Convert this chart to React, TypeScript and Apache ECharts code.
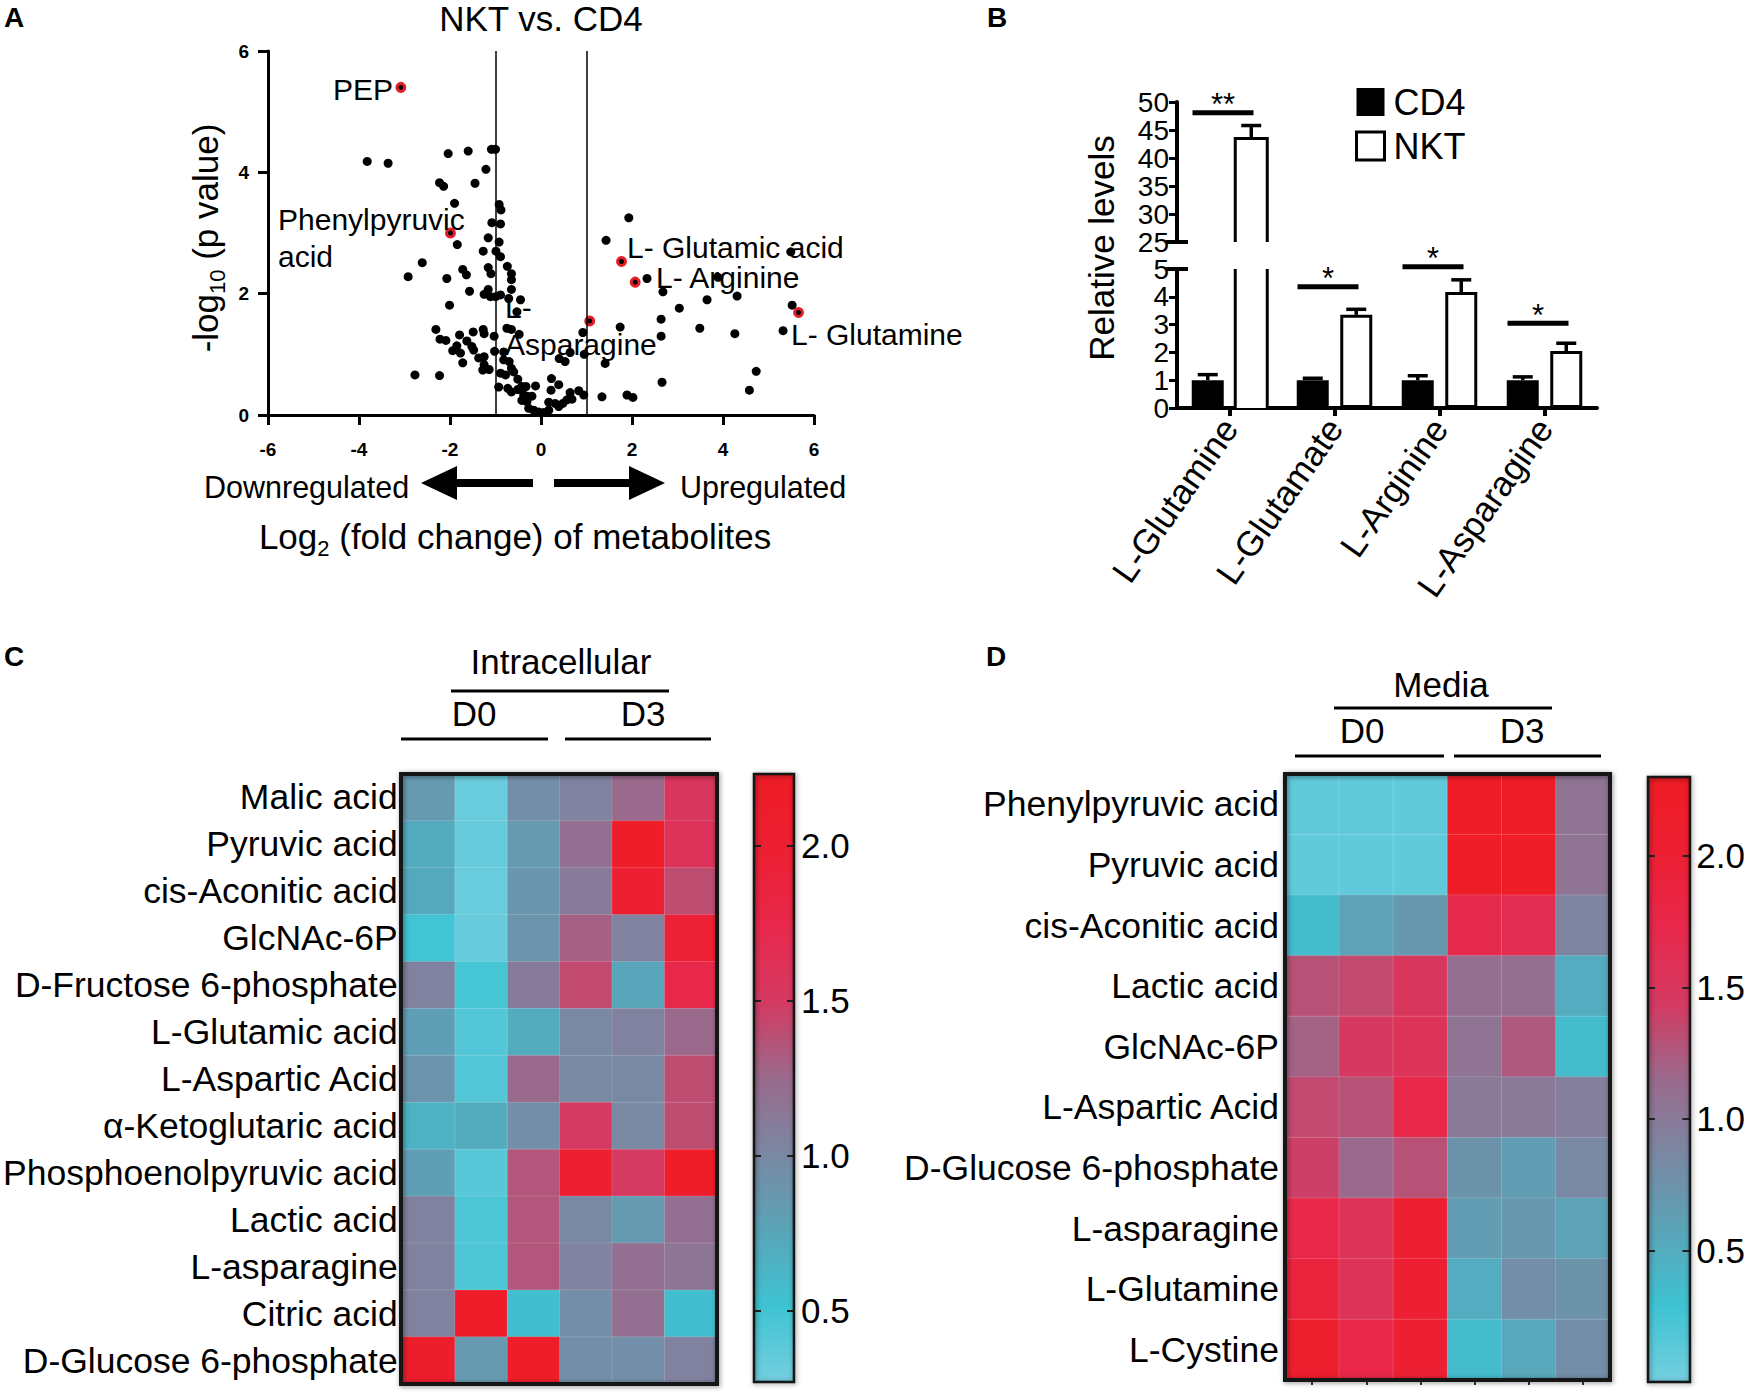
import { useEffect, useRef } from 'react';
import * as echarts from 'echarts';

const FONT = '"Liberation Sans", Arial, Helvetica, sans-serif';

// ---------- Panel A: volcano ----------
const volcanoPoints: number[][] = [
  [-3.82, 4.18], [-3.36, 4.15], [-2.04, 4.31], [-1.6, 4.35], [-1.09, 4.38], [-1.0, 4.38], [-1.21, 4.05],
  [-2.23, 3.83], [-2.14, 3.77], [-1.45, 3.82], [-1.9, 3.49], [-0.92, 3.47], [-0.88, 3.38], [-1.08, 3.17], [-0.89, 3.15],
  [-1.16, 2.92], [-0.92, 2.85], [-1.84, 2.81], [-1.27, 2.7], [-0.99, 2.7], [-0.89, 2.61],
  [-2.61, 2.51], [-2.92, 2.28], [-2.07, 2.25], [-1.72, 2.4], [-1.64, 2.31], [-1.16, 2.43], [-1.1, 2.33],
  [-0.74, 2.45], [-0.65, 2.33], [-0.65, 2.23], [-1.57, 2.04], [-1.16, 2.07], [-1.25, 1.99], [-1.11, 1.95], [-0.996, 1.95], [-0.89, 1.98],
  [-0.65, 2.07], [-0.71, 1.92], [-0.45, 1.9], [-0.53, 1.7], [-2.01, 1.81],
  [-2.31, 1.41], [-2.22, 1.25], [-2.09, 1.23], [-1.79, 1.32], [-1.49, 1.37], [-1.27, 1.41], [-1.25, 1.34], [-1.03, 1.3],
  [-0.75, 1.43], [-0.65, 1.41], [-0.48, 1.33], [-1.63, 1.22], [-1.52, 1.13], [-1.48, 1.07], [-1.85, 1.14], [-1.94, 1.06], [-1.77, 1.02],
  [-1.72, 0.86], [-1.37, 0.94], [-1.25, 0.96], [-1.25, 0.83], [-1.28, 0.74], [-1.14, 0.75], [-1.02, 1.05], [-0.82, 1.04], [-0.82, 0.91],
  [-0.7, 0.88], [-0.65, 0.77], [-0.6, 0.71], [-0.89, 0.69], [-0.78, 0.66], [-2.77, 0.66], [-2.23, 0.65], [-0.51, 0.59],
  [-0.93, 0.46], [-0.73, 0.44], [-0.65, 0.38], [-0.51, 0.42], [-0.42, 0.47], [-0.33, 0.47], [-0.38, 0.33], [-0.31, 0.31], [-0.42, 0.24], [-0.31, 0.22],
  [-0.12, 0.48], [-0.2, 0.31], [-0.27, 0.11], [-0.16, 0.08], [-0.05, 0.05], [0.06, 0.04], [0.17, 0.08],
  [0.17, 0.21], [0.31, 0.19], [0.39, 0.14], [0.48, 0.19], [0.57, 0.25], [0.23, 0.6], [0.22, 0.41], [0.39, 0.5],
  [0.68, 0.26], [0.64, 0.37], [0.83, 0.4], [0.94, 0.33], [0.4, 0.93], [0.53, 0.88], [0.64, 1.03], [0.92, 1.36], [0.95, 1.0],
  [1.34, 0.3], [1.41, 0.85], [1.74, 1.45], [1.43, 2.88], [1.93, 3.25], [2.33, 2.25], [1.89, 0.33], [2.02, 0.29], [2.68, 2.03],
  [2.64, 1.58], [2.64, 1.3], [2.66, 0.54], [3.04, 1.76], [5.49, 2.69], [3.89, 2.27], [4.31, 1.96], [3.65, 1.9], [5.52, 1.81],
  [5.32, 1.39], [3.49, 1.43], [4.26, 1.34], [4.73, 0.72], [4.58, 0.41],
];
const highlightedPoints: number[][] = [
  [-3.08, 5.4], [-1.99, 3.0], [1.07, 1.55], [1.77, 2.53], [2.07, 2.19], [5.66, 1.69],
];
const volcanoThresholds = [-1, 1];

// ---------- Panel B: bars ----------
const barCategories = ['L-Glutamine', 'L-Glutamate', 'L-Arginine', 'L-Asparagine'];
const cd4Means = [1, 1, 1, 1];
const cd4ErrTops = [1.2, 1.07, 1.16, 1.12];
const nktMeans = [43.5, 3.35, 4.17, 2.05];
const nktErrTops = [45.8, 3.55, 4.61, 2.33];
const sigLevels = [48.1, 4.36, 5.08, 3.05];
const sigLabels = ['**', '*', '*', '*'];
const UPPER_MIN = 25;

// ---------- Panels C / D: heatmaps ----------
const heatColumns = ['1', '2', '3', '4', '5', '6'];
const intracellularRows = [
  'Malic acid', 'Pyruvic acid', 'cis-Aconitic acid', 'GlcNAc-6P', 'D-Fructose 6-phosphate',
  'L-Glutamic acid', 'L-Aspartic Acid', 'α-Ketoglutaric acid', 'Phosphoenolpyruvic acid',
  'Lactic acid', 'L-asparagine', 'Citric acid', 'D-Glucose 6-phosphate',
];
const intracellularValues = [
  [0.85, 0.32, 0.95, 1.05, 1.25, 1.55],
  [0.7, 0.33, 0.85, 1.2, 2.15, 1.6],
  [0.72, 0.32, 0.88, 1.1, 2.0, 1.4],
  [0.5, 0.33, 0.9, 1.3, 1.05, 1.95],
  [1.05, 0.48, 1.1, 1.42, 0.75, 1.75],
  [0.8, 0.42, 0.7, 1.0, 1.05, 1.25],
  [0.9, 0.42, 1.25, 1.0, 1.0, 1.4],
  [0.65, 0.7, 0.95, 1.5, 1.0, 1.4],
  [0.8, 0.4, 1.35, 2.0, 1.5, 2.15],
  [1.05, 0.45, 1.35, 1.0, 0.85, 1.2],
  [1.05, 0.45, 1.35, 1.05, 1.2, 1.15],
  [1.05, 2.15, 0.55, 0.95, 1.2, 0.55],
  [2.1, 0.85, 2.15, 0.95, 0.95, 1.05],
];
const mediaRows = [
  'Phenylpyruvic acid', 'Pyruvic acid', 'cis-Aconitic acid', 'Lactic acid', 'GlcNAc-6P',
  'L-Aspartic Acid', 'D-Glucose 6-phosphate', 'L-asparagine', 'L-Glutamine', 'L-Cystine',
];
const mediaValues = [
  [0.1, 0.1, 0.1, 2.25, 2.25, 1.05],
  [0.1, 0.1, 0.1, 2.25, 2.25, 1.05],
  [0.35, 0.6, 0.7, 1.7, 1.65, 0.9],
  [1.3, 1.35, 1.5, 1.1, 1.1, 0.5],
  [1.2, 1.45, 1.55, 1.05, 1.25, 0.35],
  [1.35, 1.3, 1.75, 1.0, 1.0, 0.95],
  [1.4, 1.15, 1.3, 0.75, 0.65, 0.85],
  [1.75, 1.55, 2.05, 0.65, 0.7, 0.6],
  [1.9, 1.55, 2.0, 0.5, 0.8, 0.75],
  [2.1, 1.75, 2.0, 0.35, 0.55, 0.8],
];
const colorbarTicks = [0.5, 1.0, 1.5, 2.0];
const intracellularRange = [0.27, 2.23];
const mediaRange = [0, 2.3];
const heatColors = ['#74CEDF', '#3EC3D2', '#5AA4B8', '#7A88A3', '#9A6A8C', '#D43A62', '#E8284C', '#ED1F32', '#EE1C25'];

const BAR_W = 32;
const BAR_OFF = 21.75;

function renderBrokenLower(params: any, api: any) {
  const p0 = api.coord([api.value(0), 0]);
  const cs = params.coordSys;
  const xl = p0[0] + BAR_OFF - BAR_W / 2;
  const xr = p0[0] + BAR_OFF + BAR_W / 2;
  return {
    type: 'group',
    children: [
      { type: 'rect', shape: { x: xl, y: cs.y, width: BAR_W, height: p0[1] - cs.y }, style: { fill: '#fff' } },
      { type: 'line', shape: { x1: xl, y1: p0[1], x2: xl, y2: cs.y }, style: { stroke: '#000', lineWidth: 3 } },
      { type: 'line', shape: { x1: xr, y1: p0[1], x2: xr, y2: cs.y }, style: { stroke: '#000', lineWidth: 3 } },
    ],
  };
}

function renderBrokenUpper(params: any, api: any) {
  const cs = params.coordSys;
  const bottom = cs.y + cs.height;
  const pt = api.coord([api.value(0), api.value(1)]);
  const xl = pt[0] + BAR_OFF - BAR_W / 2;
  const xr = pt[0] + BAR_OFF + BAR_W / 2;
  return {
    type: 'polyline',
    shape: { points: [[xl, bottom], [xl, pt[1]], [xr, pt[1]], [xr, bottom]] },
    style: { stroke: '#000', lineWidth: 3, fill: 'none' },
  };
}

function makeErrRender(side: number) {
  return (params: any, api: any) => {
    const cat = api.value(0);
    const m = api.coord([cat, api.value(1)]);
    const e = api.coord([cat, api.value(2)]);
    const x = m[0] + side * BAR_OFF;
    return {
      type: 'group',
      children: [
        { type: 'line', shape: { x1: x, y1: m[1], x2: x, y2: e[1] }, style: { stroke: '#000', lineWidth: 3.5 } },
        { type: 'line', shape: { x1: x - 10, y1: e[1], x2: x + 10, y2: e[1] }, style: { stroke: '#000', lineWidth: 3.5 } },
      ],
    };
  };
}

function renderSig(params: any, api: any) {
  const cat = api.value(0);
  const p = api.coord([cat, api.value(1)]);
  const x1 = p[0] - 37;
  const x2 = p[0] + 24;
  return {
    type: 'group',
    children: [
      { type: 'line', shape: { x1, y1: p[1], x2, y2: p[1] }, style: { stroke: '#000', lineWidth: 5 } },
      {
        type: 'text',
        x: (x1 + x2) / 2,
        y: p[1] - 8,
        style: {
          text: sigLabels[cat], fontSize: 31, fontFamily: FONT, fill: '#000',
          align: 'center', verticalAlign: 'middle', textAlign: 'center', textVerticalAlign: 'middle',
        },
      },
    ],
  };
}

function renderColorbar(params: any) {
  const cs = params.coordSys;
  return {
    type: 'rect',
    shape: { x: cs.x, y: cs.y, width: cs.width, height: cs.height },
    style: {
      fill: new echarts.graphic.LinearGradient(0, 1, 0, 0,
        heatColors.map((c, i) => ({ offset: i / (heatColors.length - 1), color: c }))),
    },
  };
}

function txt(x: number, y: number, text: string, fontSize: number, opts: any = {}) {
  const align = opts.align || 'center';
  const va = opts.verticalAlign || 'middle';
  const style: any = {
    text, fontSize, fontFamily: FONT, fill: '#000',
    align, verticalAlign: va, textAlign: align, textVerticalAlign: va,
    fontWeight: opts.fontWeight || 'normal',
  };
  if (opts.rich) style.rich = opts.rich;
  return { type: 'text', x, y, z: 100, rotation: opts.rotation || 0, style };
}
function ln(x1: number, y1: number, x2: number, y2: number, w = 3) {
  return { type: 'line', z: 100, shape: { x1, y1, x2, y2 }, style: { stroke: '#000', lineWidth: w } };
}
function frame(x: number, y: number, w: number, h: number, lw: number) {
  return {
    type: 'rect', z: 100, shape: { x, y, width: w, height: h },
    style: { fill: 'none', stroke: '#151515', lineWidth: lw, shadowBlur: 5, shadowColor: 'rgba(0,0,0,0.45)', shadowOffsetX: 1, shadowOffsetY: 1 },
  };
}

function buildOption() {
  const heatC: number[][] = [];
  intracellularValues.forEach((row, r) => row.forEach((v, c) => heatC.push([c, r, v])));
  const heatD: number[][] = [];
  mediaValues.forEach((row, r) => row.forEach((v, c) => heatD.push([c, r, v])));

  const nktLowerBars = nktMeans.map((v) => (v >= UPPER_MIN ? '-' : v));
  const brokenData = nktMeans.map((v, i) => [i, v]).filter((d) => d[1] >= UPPER_MIN);
  const cd4Err = cd4Means.map((v, i) => [i, v, cd4ErrTops[i]]);
  const nktErrLower = nktMeans.map((v, i) => [i, v, nktErrTops[i]]).filter((d) => d[1] < UPPER_MIN);
  const nktErrUpper = nktMeans.map((v, i) => [i, v, nktErrTops[i]]).filter((d) => d[1] >= UPPER_MIN);
  const sigLower = sigLevels.map((v, i) => [i, v]).filter((d) => d[1] < UPPER_MIN);
  const sigUpper = sigLevels.map((v, i) => [i, v]).filter((d) => d[1] >= UPPER_MIN);

  const blackAxis = (w: number) => ({ show: true, onZero: false, lineStyle: { color: '#000', width: w } });
  const barYAxis = (gridIndex: number, min: number, max: number, interval: number) => ({
    gridIndex, type: 'value', min, max, interval,
    axisLine: blackAxis(4),
    axisTick: { show: true, length: 8, lineStyle: { color: '#000', width: 3 } },
    axisLabel: {
      fontSize: 28, lineHeight: 24, color: '#000', margin: 8, fontFamily: FONT,
      showMinLabel: true, showMaxLabel: true, hideOverlap: false,
    },
    splitLine: { show: false },
  });
  const cbAxis = (gridIndex: number, range: number[], position: string, labels: boolean) => ({
    gridIndex, type: 'value', min: range[0], max: range[1], position, z: 10,
    axisLine: { show: false },
    axisTick: { show: true, inside: true, length: 7, lineStyle: { color: '#222', width: 2 }, customValues: colorbarTicks },
    axisLabel: labels
      ? { show: true, customValues: colorbarTicks, formatter: (v: number) => v.toFixed(1), fontSize: 35, color: '#000', margin: 7, fontFamily: FONT }
      : { show: false },
    splitLine: { show: false },
  });
  const heatYAxis = (gridIndex: number, rows: string[], margin: number) => ({
    gridIndex, type: 'category', data: rows, inverse: true,
    axisLine: { show: false }, axisTick: { show: false },
    axisLabel: { fontSize: 35.5, color: '#000', margin, interval: 0, fontFamily: FONT },
  });

  const graphic: any[] = [
    txt(14, 17, 'A', 28, { fontWeight: 'bold' }),
    txt(997, 17, 'B', 28, { fontWeight: 'bold' }),
    txt(14, 656, 'C', 28, { fontWeight: 'bold' }),
    txt(996, 656, 'D', 28, { fontWeight: 'bold' }),
    txt(541, 18, 'NKT vs. CD4', 35),
    txt(205, 238, '{a|-log}{s|10}{a| (p value)}', 35, {
      rotation: Math.PI / 2,
      rich: {
        a: { fontSize: 35, fontFamily: FONT, lineHeight: 46, verticalAlign: 'middle' },
        s: { fontSize: 22, fontFamily: FONT, lineHeight: 22, verticalAlign: 'bottom' },
      },
    }),
    txt(515, 536, '{a|Log}{s|2}{a| (fold change) of metabolites}', 35, {
      rich: {
        a: { fontSize: 35, fontFamily: FONT, lineHeight: 46, verticalAlign: 'middle' },
        s: { fontSize: 22, fontFamily: FONT, lineHeight: 22, verticalAlign: 'bottom' },
      },
    }),
    txt(204, 487, 'Downregulated', 30.5, { align: 'left' }),
    txt(680, 487, 'Upregulated', 30.5, { align: 'left' }),
    {
      type: 'polygon', z: 100,
      shape: { points: [[421, 483], [457, 466], [457, 479], [533, 479], [533, 487], [457, 487], [457, 500]] },
      style: { fill: '#000' },
    },
    {
      type: 'polygon', z: 100,
      shape: { points: [[665, 483], [629, 466], [629, 479], [554, 479], [554, 487], [629, 487], [629, 500]] },
      style: { fill: '#000' },
    },
    txt(333, 89, 'PEP', 30, { align: 'left' }),
    txt(278, 219, 'Phenylpyruvic', 30, { align: 'left' }),
    txt(278, 256, 'acid', 30, { align: 'left' }),
    txt(505, 307, 'L-', 30, { align: 'left' }),
    txt(505, 344, 'Asparagine', 30, { align: 'left' }),
    txt(627, 247, 'L- Glutamic acid', 30, { align: 'left' }),
    txt(656, 277, 'L- Arginine', 30, { align: 'left' }),
    txt(791, 334, 'L- Glutamine', 30, { align: 'left' }),
    // Panel B
    txt(1101, 248, 'Relative levels', 35, { rotation: Math.PI / 2 }),
    ln(1166, 242, 1188, 242, 4),
    ln(1166, 269, 1188, 269, 4),
    // Panel C headers
    txt(561, 661, 'Intracellular', 35),
    ln(451, 691, 669, 691),
    txt(474, 713, 'D0', 35),
    txt(643, 713, 'D3', 35),
    ln(401, 739, 548, 739),
    ln(565, 739, 711, 739),
    // Panel D headers
    txt(1441, 684, 'Media', 35),
    ln(1334, 708, 1552, 708),
    txt(1362, 730, 'D0', 35),
    txt(1522, 730, 'D3', 35),
    ln(1295, 756, 1444, 756),
    ln(1454, 756, 1601, 756),
    frame(401, 774, 316, 610, 4),
    frame(1285, 774, 325, 606, 4),
    frame(754, 774, 40, 608, 2.5),
    frame(1648, 777, 42, 605, 2.5),
  ];

  return {
    animation: false,
    backgroundColor: '#fff',
    textStyle: { fontFamily: FONT },
    grid: [
      { left: 268, top: 51, width: 546, height: 364 },
      { left: 1177, top: 102, width: 420, height: 140 },
      { left: 1177, top: 269, width: 420, height: 139 },
      { left: 401, top: 774, width: 316, height: 610 },
      { left: 754, top: 774, width: 40, height: 608 },
      { left: 1285, top: 774, width: 325, height: 606 },
      { left: 1648, top: 777, width: 42, height: 605 },
    ],
    legend: {
      data: [
        { name: 'CD4', itemStyle: { color: '#000' } },
        { name: 'NKT', itemStyle: { color: '#fff', borderColor: '#000', borderWidth: 3 } },
      ],
      left: 1355, top: 84, orient: 'vertical', itemWidth: 28, itemHeight: 28, itemGap: 8,
      icon: 'rect', selectedMode: false, padding: 0,
      textStyle: { fontSize: 36, color: '#000', lineHeight: 28, padding: [0, 0, 0, 4], fontFamily: FONT },
    },
    xAxis: [
      {
        gridIndex: 0, type: 'value', min: -6, max: 6, interval: 2,
        axisLine: blackAxis(3),
        axisTick: { show: true, length: 10, lineStyle: { color: '#000', width: 3 } },
        axisLabel: { fontSize: 19, fontWeight: 'bold', color: '#000', margin: 25, fontFamily: FONT },
        splitLine: { show: false },
      },
      { gridIndex: 1, type: 'category', data: barCategories, show: false },
      {
        gridIndex: 2, type: 'category', data: barCategories,
        axisLine: { show: true, lineStyle: { color: '#000', width: 4 } },
        axisTick: { show: true, alignWithLabel: true, length: 8, lineStyle: { color: '#000', width: 4 } },
        axisLabel: { rotate: 55, fontSize: 35, color: '#000', margin: 14, interval: 0, fontFamily: FONT },
      },
      { gridIndex: 3, type: 'category', data: heatColumns, show: false },
      { gridIndex: 4, type: 'category', data: [''], show: false },
      {
        gridIndex: 5, type: 'category', data: heatColumns,
        axisLine: { show: false },
        axisTick: { show: true, alignWithLabel: true, length: 5, lineStyle: { color: '#333', width: 2 } },
        axisLabel: { show: false },
      },
      { gridIndex: 6, type: 'category', data: [''], show: false },
    ],
    yAxis: [
      {
        gridIndex: 0, type: 'value', min: 0, max: 6, interval: 2,
        axisLine: blackAxis(3),
        axisTick: { show: true, length: 10, lineStyle: { color: '#000', width: 3 } },
        axisLabel: { fontSize: 19, fontWeight: 'bold', color: '#000', margin: 19, fontFamily: FONT },
        splitLine: { show: false },
      },
      barYAxis(1, 25, 50, 5),
      barYAxis(2, 0, 5, 1),
      heatYAxis(3, intracellularRows, 5),
      cbAxis(4, intracellularRange, 'left', false),
      cbAxis(4, intracellularRange, 'right', true),
      heatYAxis(5, mediaRows, 6),
      cbAxis(6, mediaRange, 'left', false),
      cbAxis(6, mediaRange, 'right', true),
    ],
    visualMap: [
      {
        type: 'continuous', show: false, seriesIndex: 11, dimension: 2,
        min: intracellularRange[0], max: intracellularRange[1], inRange: { color: heatColors },
      },
      {
        type: 'continuous', show: false, seriesIndex: 13, dimension: 2,
        min: mediaRange[0], max: mediaRange[1], inRange: { color: heatColors },
      },
    ],
    series: [
      {
        type: 'scatter', xAxisIndex: 0, yAxisIndex: 0, data: volcanoPoints, symbolSize: 9,
        itemStyle: { color: '#000', opacity: 1 }, silent: true,
        markLine: {
          silent: true, symbol: ['none', 'none'], label: { show: false },
          lineStyle: { color: '#000', width: 1.5, type: 'solid' },
          data: volcanoThresholds.map((x) => ({ xAxis: x })),
        },
      },
      {
        type: 'scatter', xAxisIndex: 0, yAxisIndex: 0, data: highlightedPoints, symbolSize: 8, z: 3,
        itemStyle: { color: '#000', borderColor: '#E41E26', borderWidth: 3, opacity: 1 }, silent: true,
      },
      {
        type: 'bar', name: 'CD4', xAxisIndex: 2, yAxisIndex: 2, data: cd4Means,
        barWidth: BAR_W, barGap: '36%', itemStyle: { color: '#000' }, silent: true,
      },
      {
        type: 'bar', name: 'NKT', xAxisIndex: 2, yAxisIndex: 2, data: nktLowerBars,
        barWidth: BAR_W, barGap: '36%', itemStyle: { color: '#fff', borderColor: '#000', borderWidth: 3 }, silent: true,
      },
      { type: 'custom', xAxisIndex: 2, yAxisIndex: 2, data: brokenData, renderItem: renderBrokenLower, silent: true },
      { type: 'custom', xAxisIndex: 1, yAxisIndex: 1, data: brokenData, renderItem: renderBrokenUpper, silent: true },
      { type: 'custom', xAxisIndex: 2, yAxisIndex: 2, data: cd4Err, renderItem: makeErrRender(-1), silent: true },
      { type: 'custom', xAxisIndex: 2, yAxisIndex: 2, data: nktErrLower, renderItem: makeErrRender(1), silent: true },
      { type: 'custom', xAxisIndex: 1, yAxisIndex: 1, data: nktErrUpper, renderItem: makeErrRender(1), silent: true },
      { type: 'custom', xAxisIndex: 2, yAxisIndex: 2, data: sigLower, renderItem: renderSig, silent: true },
      { type: 'custom', xAxisIndex: 1, yAxisIndex: 1, data: sigUpper, renderItem: renderSig, silent: true },
      {
        type: 'heatmap', xAxisIndex: 3, yAxisIndex: 3, data: heatC, silent: true,
        itemStyle: { borderColor: 'rgba(255,255,255,0.15)', borderWidth: 1 },
      },
      { type: 'custom', xAxisIndex: 4, yAxisIndex: 4, data: [[0, 1]], renderItem: renderColorbar, silent: true },
      {
        type: 'heatmap', xAxisIndex: 5, yAxisIndex: 6, data: heatD, silent: true,
        itemStyle: { borderColor: 'rgba(255,255,255,0.15)', borderWidth: 1 },
      },
      { type: 'custom', xAxisIndex: 6, yAxisIndex: 7, data: [[0, 1]], renderItem: renderColorbar, silent: true },
    ],
    graphic: { elements: graphic },
  };
}

export default function App() {
  const ref = useRef<HTMLDivElement>(null);
  useEffect(() => {
    const chart = echarts.init(ref.current as HTMLDivElement, null, { renderer: 'svg' });
    chart.setOption(buildOption() as any);
    return () => chart.dispose();
  }, []);
  return (
    <div
      ref={ref}
      style={{ position: 'fixed', left: 0, top: 0, width: 1748, height: 1392, background: '#fff' }}
    />
  );
}
